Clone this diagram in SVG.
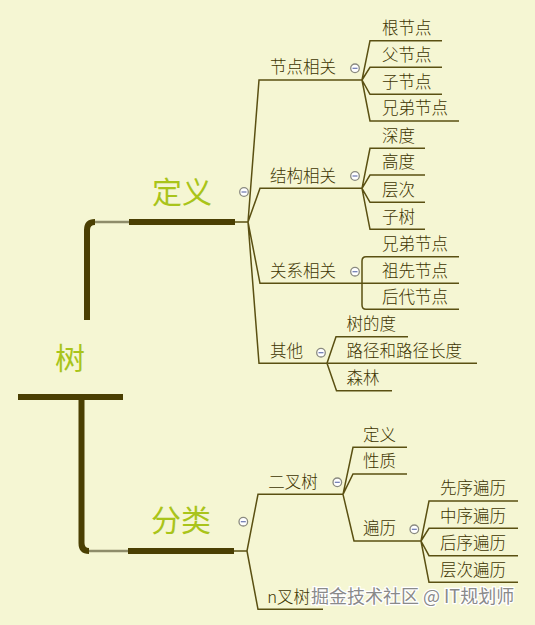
<svg xmlns="http://www.w3.org/2000/svg" width="535" height="625" viewBox="0 0 535 625">
<style>
.bg{fill:#f5f6d3}
.t{font-family:"Noto Sans CJK SC","Liberation Sans",sans-serif;font-size:16.5px;font-weight:300;fill:#3d3400}
.m{font-family:"Noto Sans CJK SC","Liberation Sans",sans-serif;font-size:30px;fill:#a9c41a;text-anchor:middle}
.ln{fill:none;stroke:#5a5012;stroke-width:1.5}
.bar{fill:none;stroke:#4a3f02;stroke-width:6}
.gl{fill:none;stroke:#8e8c6a;stroke-width:2.5}
.c circle{fill:#ffffff;stroke:#8a8a80;stroke-width:1.3}
.c line{stroke:#6a76b0;stroke-width:1.2}
.wm{font-family:"Noto Sans CJK SC","Liberation Sans",sans-serif;font-size:18px;fill:#8a8a8a;stroke:#ffffff;stroke-width:2.5;paint-order:stroke}
</style>
<rect class="bg" x="0" y="0" width="535" height="625"/>
<g id="connectors">
  <path class="bar" d="M18,397 H123"/>
  <path class="bar" d="M87,320 V230 Q87,222 95,222" stroke-width="5.5"/>
  <path class="gl" d="M95,222 H129"/>
  <path class="bar" d="M129,222 H235"/>
  <path class="bar" d="M81.5,397 V543 Q81.5,551 89,551" stroke-width="5"/>
  <path class="gl" d="M89,551 H128"/>
  <path class="bar" d="M128,551 H234"/>
  <path class="ln" d="M235,222 H248 L259,80 H362 M248,222 L260,188.3 H362 M248,222 L260,283.3 H459 M248,222 L259,363.3 H327"/>
  <path class="ln" d="M362,80 L370,40.7 H442 M362,80 L370,67.3 H442 M362,80 L370,94.3 H442 M362,80 L370,121 H459"/>
  <path class="ln" d="M362,188.3 L370,148.3 H425 M362,188.3 L370,175 H425 M362,188.3 L370,202.3 H425 M362,188.3 L370,229.3 H425"/>
  <path class="ln" d="M459,256.7 H366 Q362,256.7 362,261 V305 Q362,309.3 366,309.3 H459"/>
  <path class="ln" d="M327,363.3 L336,336.7 H408 M327,363.3 H477 M327,363.3 L336.5,390.7 H392"/>
  <path class="ln" d="M234,551 H247 L258,494.3 H343 M247,551 L258,609.3 H323"/>
  <path class="ln" d="M343,494.3 L353,447.3 H407 M343,494.3 L353,474 H407 M343,494.3 L354,541 H421"/>
  <path class="ln" d="M421,541 L429,501 H518 M421,541 L429,528.3 H518 M421,541 L429,555.7 H518 M421,541 L429,582.3 H518"/>
</g>
<g id="root"><text class="m" x="70" y="369">树</text></g>
<g id="dingyi"><text class="m" x="182" y="203">定义</text>
  <g class="c"><circle cx="244" cy="192" r="4.3"/><line x1="241.5" y1="192" x2="246.5" y2="192"/></g></g>
<g id="fenlei"><text class="m" x="181" y="531">分类</text>
  <g class="c"><circle cx="243.3" cy="521.7" r="4.3"/><line x1="240.8" y1="521.7" x2="245.8" y2="521.7"/></g></g>
<g id="jiedianxiangguan"><text class="t" x="270" y="73">节点相关</text>
  <g class="c"><circle cx="355" cy="68.3" r="4.3"/><line x1="352.5" y1="68.3" x2="357.5" y2="68.3"/></g></g>
<g id="genjiedian"><text class="t" x="382" y="34">根节点</text></g>
<g id="fujiedian"><text class="t" x="382" y="60.5">父节点</text></g>
<g id="zijiedian"><text class="t" x="382" y="87.5">子节点</text></g>
<g id="xiongdi1"><text class="t" x="382" y="114">兄弟节点</text></g>
<g id="jiegouxiangguan"><text class="t" x="270" y="181.5">结构相关</text>
  <g class="c"><circle cx="355" cy="176" r="4.3"/><line x1="352.5" y1="176" x2="357.5" y2="176"/></g></g>
<g id="shendu"><text class="t" x="382" y="141.5">深度</text></g>
<g id="gaodu"><text class="t" x="382" y="168">高度</text></g>
<g id="cengci"><text class="t" x="382" y="195.5">层次</text></g>
<g id="zishu"><text class="t" x="382" y="222.5">子树</text></g>
<g id="guanxixiangguan"><text class="t" x="270" y="276.5">关系相关</text>
  <g class="c"><circle cx="355" cy="271.7" r="4.3"/><line x1="352.5" y1="271.7" x2="357.5" y2="271.7"/></g></g>
<g id="xiongdi2"><text class="t" x="382" y="250">兄弟节点</text></g>
<g id="zuxian"><text class="t" x="382" y="276.5">祖先节点</text></g>
<g id="houdai"><text class="t" x="382" y="302.5">后代节点</text></g>
<g id="qita"><text class="t" x="270" y="356.5">其他</text>
  <g class="c"><circle cx="321" cy="352.7" r="4.3"/><line x1="318.5" y1="352.7" x2="323.5" y2="352.7"/></g></g>
<g id="shudedu"><text class="t" x="346.5" y="330">树的度</text></g>
<g id="lujing"><text class="t" x="346.5" y="356.5">路径和路径长度</text></g>
<g id="senlin"><text class="t" x="346.5" y="384">森林</text></g>
<g id="erchashu"><text class="t" x="268.3" y="487.5">二叉树</text>
  <g class="c"><circle cx="337.3" cy="482.3" r="4.3"/><line x1="334.8" y1="482.3" x2="339.8" y2="482.3"/></g></g>
<g id="dingyi2"><text class="t" x="363" y="440.5">定义</text></g>
<g id="xingzhi"><text class="t" x="363" y="467">性质</text></g>
<g id="bianli"><text class="t" x="363" y="534">遍历</text>
  <g class="c"><circle cx="414.3" cy="529.3" r="4.3"/><line x1="411.8" y1="529.3" x2="416.8" y2="529.3"/></g></g>
<g id="xianxu"><text class="t" x="440" y="494">先序遍历</text></g>
<g id="zhongxu"><text class="t" x="440" y="521.5">中序遍历</text></g>
<g id="houxu"><text class="t" x="440" y="549">后序遍历</text></g>
<g id="cengcibianli"><text class="t" x="440" y="575.5">层次遍历</text></g>
<g id="nchashu"><text class="t" x="267.3" y="602.5">n叉树</text></g>
<text class="wm" x="311" y="603">掘金技术社区 @ IT规划师</text>
</svg>
